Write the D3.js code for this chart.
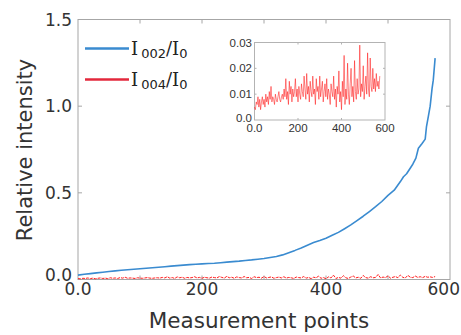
<!DOCTYPE html>
<html><head><meta charset="utf-8">
<script src="https://cdn.jsdelivr.net/npm/d3@7"></script>
<style>body{margin:0;background:#fff}svg{display:block}</style>
</head><body>
<script>
// Blue series: I002/I0 (measurement index, value)
const blueX = [0,10,20,30,40,50,60,70,80,90,100,110,120,130,140,150,160,170,180,190,200,210,220,230,240,250,260,270,280,290,300,310,320,330,340,350,360,370,380,390,400,410,420,430,440,450,460,470,480,490,500,510,520,525,530,540,545,549,555,560,562,565,568,571,573,576];
const blueY = [0.025,0.03,0.034,0.038,0.042,0.046,0.05,0.053,0.056,0.059,0.062,0.065,0.068,0.071,0.074,0.077,0.08,0.083,0.086,0.088,0.09,0.092,0.094,0.097,0.1,0.103,0.106,0.11,0.113,0.117,0.121,0.127,0.133,0.142,0.155,0.168,0.182,0.198,0.213,0.225,0.238,0.255,0.272,0.293,0.315,0.34,0.365,0.392,0.42,0.45,0.485,0.515,0.565,0.593,0.61,0.665,0.7,0.757,0.785,0.81,0.88,0.94,1.0,1.1,1.15,1.277];
// Red series: I004/I0, sampled every 4 measurement points from 0
const redStep = 4;
const redY = [
0.005,0.004,0.007,0.006,0.009,0.005,0.008,0.004,0.007,0.009,0.006,0.008,0.005,0.01,0.007,0.009,
0.006,0.011,0.008,0.013,0.007,0.009,0.008,0.006,0.01,0.008,0.007,0.009,0.011,0.008,0.007,
0.009,0.01,0.008,0.012,0.009,0.016,0.008,0.011,0.006,0.015,0.01,0.013,0.007,0.012,0.009,
0.011,0.016,0.009,0.012,0.007,0.013,0.01,0.008,0.014,0.011,0.009,0.017,0.012,0.008,0.018,
0.01,0.013,0.007,0.015,0.011,0.009,0.017,0.01,0.012,0.006,0.016,0.011,0.013,0.008,0.017,
0.009,0.012,0.015,0.007,0.011,0.014,0.009,0.016,0.008,0.012,0.01,0.006,0.014,0.011,0.009,
0.017,0.008,0.012,0.005,0.013,0.01,0.019,0.007,0.011,0.004,0.015,0.009,0.025,0.006,0.012,
0.008,0.022,0.01,0.006,0.014,0.02,0.009,0.013,0.007,0.023,0.011,0.008,0.016,0.01,0.012,
0.029,0.009,0.014,0.011,0.021,0.008,0.013,0.017,0.01,0.026,0.012,0.009,0.024,0.013,0.011,
0.02,0.012,0.016,0.011,0.018,0.013,0.015,0.012,0.017];
const xTicks = [0,200,400,600];
const xMinor = [100,300,500];
const yTicks = [0,0.5,1.0,1.5];
const insetXTicks = [0,200,400,600];
const insetYTicks = [0,0.01,0.02,0.03];
const legendLabels = [{main:"I",sub:"002",main2:"/I",sub2:"0",color:"#3a8bd0"},{main:"I",sub:"004",main2:"/I",sub2:"0",color:"#e3283c"}];

const W=461,H=335;
const svg=d3.select("body").append("svg").attr("width",W).attr("height",H);
const m={l:78,r:450,t:19.5,b:279.5};
const x=d3.scaleLinear().domain([0,600]).range([m.l,m.r]);
const y=d3.scaleLinear().domain([0,1.5]).range([m.b,m.t]);
const axisCol="#a6a6a6", textCol="#333";
const sans="'DejaVu Sans', Verdana, sans-serif";

const blue = blueX.map((v,i)=>[v,blueY[i]]);
const red = redY.map((v,i)=>[i*redStep,v]);

// frame
svg.append("rect").attr("x",m.l).attr("y",m.t).attr("width",m.r-m.l).attr("height",m.b-m.t)
  .attr("fill","none").attr("stroke",axisCol).attr("stroke-width",1);
// ticks inward
const tl=4;
[...xTicks,...xMinor].forEach(t=>{
  if(t===0||t===600) return;
  svg.append("line").attr("x1",x(t)).attr("x2",x(t)).attr("y1",m.b).attr("y2",m.b-tl).attr("stroke",axisCol);
  svg.append("line").attr("x1",x(t)).attr("x2",x(t)).attr("y1",m.t).attr("y2",m.t+tl).attr("stroke",axisCol);
});
yTicks.forEach(t=>{
  if(t===0||t===1.5) return;
  svg.append("line").attr("x1",m.l).attr("x2",m.l+tl).attr("y1",y(t)).attr("y2",y(t)).attr("stroke",axisCol);
  svg.append("line").attr("x1",m.r).attr("x2",m.r-tl).attr("y1",y(t)).attr("y2",y(t)).attr("stroke",axisCol);
});
// tick labels
svg.selectAll(".xl").data(xTicks).enter().append("text")
  .attr("x",d=>d===600?460:x(d)).attr("y",295).attr("text-anchor",d=>d===600?"end":"middle")
  .attr("font-family",sans).attr("font-size",17).attr("fill",textCol)
  .text(d=>d===0?"0.0":d3.format("d")(d));
svg.selectAll(".yl").data(yTicks).enter().append("text")
  .attr("x",72).attr("y",d=>y(d)+(d===0?1.5:6)).attr("text-anchor","end")
  .attr("font-family",sans).attr("font-size",17).attr("fill",textCol)
  .text(d=>d3.format(".1f")(d));
// axis titles
svg.append("text").attr("x",259).attr("y",328).attr("text-anchor","middle")
  .attr("font-family",sans).attr("font-size",21.5).attr("fill",textCol).text("Measurement points");
svg.append("text").attr("transform","translate(32,150) rotate(-90)").attr("text-anchor","middle")
  .attr("font-family",sans).attr("font-size",21).attr("fill",textCol).text("Relative intensity");

const line=(xs,ys)=>d3.line().x(d=>xs(d[0])).y(d=>ys(d[1]));
// red main
svg.append("path").datum(red).attr("d",line(x,y)).attr("fill","none")
  .attr("stroke","#ff1a1a").attr("stroke-width",1).attr("stroke-dasharray","3,1");
// blue main
svg.append("path").datum(blue).attr("d",line(x,y)).attr("fill","none")
  .attr("stroke","#3a8bd0").attr("stroke-width",1.6).attr("stroke-linejoin","round");

// legend
legendLabels.forEach((L,i)=>{
  const ly=48.5+i*31;
  svg.append("line").attr("x1",85).attr("x2",129).attr("y1",ly).attr("y2",ly)
    .attr("stroke",L.color).attr("stroke-width",2.5);
  const t=svg.append("text").attr("x",131).attr("y",ly+6).attr("fill","#222")
    .attr("font-family","'DejaVu Serif', serif").attr("font-size",18);
  t.append("tspan").text(L.main);
  t.append("tspan").attr("font-family",sans).attr("font-size",13).attr("dx",3).attr("dy",3).text(L.sub);
  t.append("tspan").attr("dy",-3).text(L.main2);
  t.append("tspan").attr("font-family",sans).attr("font-size",13).attr("dy",3).text(L.sub2);
});

// inset
const im={l:254.5,r:385,t:42.5,b:120};
const ix=d3.scaleLinear().domain([0,600]).range([im.l,im.r]);
const iy=d3.scaleLinear().domain([0,0.03]).range([im.b,im.t]);
svg.append("rect").attr("x",im.l).attr("y",im.t).attr("width",im.r-im.l).attr("height",im.b-im.t)
  .attr("fill","#fff").attr("stroke","#b3b3b3").attr("stroke-width",1);
insetXTicks.forEach(t=>{
  if(t===0||t===600) return;
  svg.append("line").attr("x1",ix(t)).attr("x2",ix(t)).attr("y1",im.b).attr("y2",im.b-2).attr("stroke","#b3b3b3");
  svg.append("line").attr("x1",ix(t)).attr("x2",ix(t)).attr("y1",im.t).attr("y2",im.t+2).attr("stroke","#b3b3b3");
});
insetYTicks.forEach(t=>{
  if(t===0||t===0.03) return;
  svg.append("line").attr("x1",im.l).attr("x2",im.l+2).attr("y1",iy(t)).attr("y2",iy(t)).attr("stroke","#b3b3b3");
  svg.append("line").attr("x1",im.r).attr("x2",im.r-2).attr("y1",iy(t)).attr("y2",iy(t)).attr("stroke","#b3b3b3");
});
const isans="'Liberation Sans', Arial, sans-serif";
svg.selectAll(".ixl").data(insetXTicks).enter().append("text")
  .attr("x",d=>ix(d)).attr("y",132).attr("text-anchor","middle")
  .attr("font-family",isans).attr("font-size",11.5).attr("fill",textCol)
  .text(d=>d===0?"0.0":d3.format("d")(d));
svg.selectAll(".iyl").data(insetYTicks).enter().append("text")
  .attr("x",252).attr("y",d=>iy(d)+(d===0?2:4)).attr("text-anchor","end")
  .attr("font-family",isans).attr("font-size",11.5).attr("fill",textCol)
  .text(d=>d===0?"0.0":d3.format(".2f")(d));
svg.append("path").datum(red).attr("d",line(ix,iy)).attr("fill","none")
  .attr("stroke","#ff1010").attr("stroke-width",0.7).attr("stroke-opacity",0.75);
</script>
</body></html>
